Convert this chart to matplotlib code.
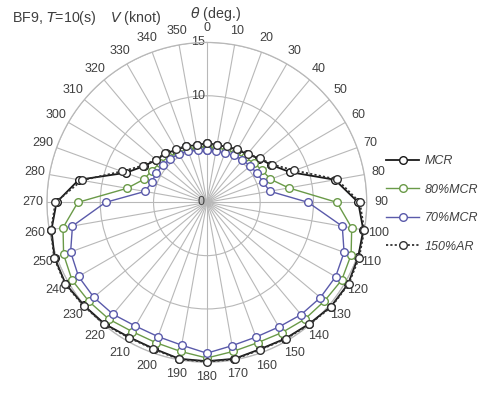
import numpy as np
import matplotlib
matplotlib.use("Agg")
from matplotlib import pyplot as plt
from matplotlib import transforms

plt.rcParams['font.family'] = ['Liberation Sans', 'DejaVu Sans']

# heading angle (deg.)
theta_deg = list(range(0, 360, 10))
# speed V (knot)
v_mcr = [5.5, 5.45, 5.55, 5.7, 5.9, 6.4, 7.0, 8.3, 12.2, 14.2, 14.9, 15.1, 15.3, 15.2, 14.9,
         14.75, 14.65, 14.9, 14.9, 14.9, 14.6, 14.6, 14.9, 15.05, 15.3, 15.2, 14.8, 14.1,
         12.2, 8.1, 6.8, 6.2, 6.0, 5.7, 5.6, 5.45]
v_80 = [5.2, 5.2, 5.25, 5.35, 5.5, 5.75, 6.0, 6.35, 7.8, 12.2, 13.8, 14.4, 14.6, 14.4, 14.3,
        14.1, 14.0, 14.2, 14.6, 14.2, 14.0, 14.0, 14.3, 14.45, 14.6, 14.3, 13.7, 12.1,
        7.6, 6.3, 5.95, 5.75, 5.55, 5.4, 5.3, 5.2]
v_70 = [4.9, 4.9, 4.9, 5.1, 5.2, 5.3, 5.45, 5.6, 6.0, 9.5, 12.9, 13.7, 13.95, 13.9, 13.75,
        13.5, 13.45, 13.65, 14.15, 13.6, 13.4, 13.4, 13.7, 13.85, 13.9, 13.6, 12.8, 9.5,
        5.9, 5.5, 5.5, 5.4, 5.35, 5.25, 5.1, 4.95]
v_ar = [5.55, 5.5, 5.6, 5.75, 5.95, 6.45, 7.1, 8.75, 12.4, 14.35, 15.0, 15.2, 15.35, 15.25, 14.95,
        14.8, 14.7, 14.95, 14.95, 14.95, 14.65, 14.65, 14.95, 15.1, 15.35, 15.25, 14.85, 14.2,
        11.9, 8.5, 6.9, 6.25, 6.05, 5.75, 5.65, 5.5]
r_ticks = [0, 5, 10, 15]

series = [
    ("MCR", v_mcr, "#1a1a1a", "-", 1.3),
    ("80%MCR", v_80, "#6a9a48", "-", 1.0),
    ("70%MCR", v_70, "#5a5aaa", "-", 1.0),
    ("150%AR", v_ar, "#333333", (0, (1.2, 1.2)), 1.3),
]

fig = plt.figure(figsize=(4.89, 3.96), dpi=100)
ax = fig.add_axes([0.096, 0.085, 0.654, 0.808], projection="polar")
ax.set_theta_zero_location("N")
ax.set_theta_direction(-1)
ax.set_ylim(0, 15)

th = np.radians(theta_deg + [theta_deg[0]])
for name, vals, col, ls, lw in series:
    ax.plot(th, vals + [vals[0]], color=col, linestyle=ls, linewidth=lw,
            marker="o", markersize=5.5, markerfacecolor="white",
            markeredgecolor=col, markeredgewidth=1.0, label=name,
            clip_on=False, zorder=3)

# grid
ax.set_thetagrids(theta_deg, [str(a) for a in theta_deg])
ax.set_rgrids(r_ticks)
ax.set_yticklabels([])
ax.grid(True, color="#b8b8b8", linewidth=0.8)
ax.spines["polar"].set_color("#b8b8b8")
ax.spines["polar"].set_linewidth(0.9)
ax.tick_params(axis="x", labelsize=9, colors="#404040", pad=0)

# radial labels, left of the 0 deg spoke
off = transforms.offset_copy(ax.transData, fig=fig, x=-2, y=0, units="dots")
for r in r_ticks:
    ax.text(0, r, str(r), transform=off, ha="right", va="center",
            fontsize=9, color="#404040", zorder=2)

fig.text(0.024, 0.954, "BF9, $T$=10(s)", fontsize=10.3, color="#404040", va="center",
         math_fontfamily="custom")
fig.text(0.225, 0.954, "$V$ (knot)", fontsize=10.3, color="#404040", va="center",
         math_fontfamily="custom")
fig.text(0.388, 0.964, r"$\theta$ (deg.)", fontsize=10.3, color="#404040", va="center",
         math_fontfamily="dejavusans")

leg = fig.legend(loc="upper left", bbox_to_anchor=(0.79, 0.608), frameon=False,
                 fontsize=9, handlelength=2.6, handletextpad=0.45, labelspacing=1.32,
                 borderpad=0, borderaxespad=0)
for t in leg.get_texts():
    t.set_fontstyle("italic")
    t.set_color("#404040")

plt.savefig("out.png", dpi=100)
